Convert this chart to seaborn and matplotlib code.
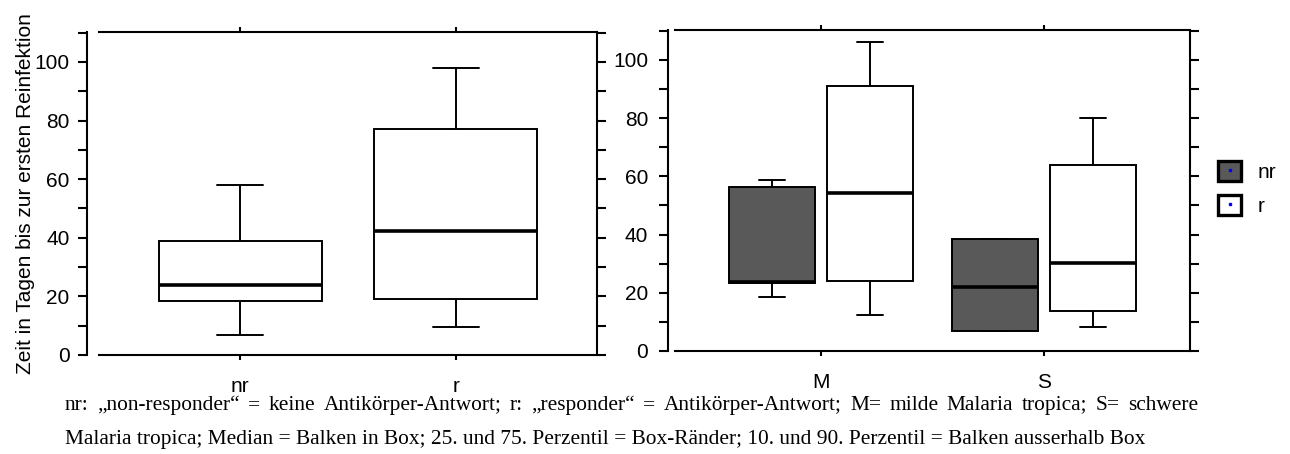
import numpy as np
import pandas as pd
import matplotlib
matplotlib.use("Agg")
import matplotlib.pyplot as plt
import seaborn as sns
from matplotlib.patches import Patch
from matplotlib.lines import Line2D
from matplotlib.ticker import FixedLocator

# ---- data: (10th pct, 25th pct, median, 75th pct, 90th pct) ----
resp_categories = ["nr", "r"]
nr_values = [6.8, 18.4, 23.8, 38.9, 58.0]
r_values = [9.6, 19.2, 42.4, 77.0, 98.0]

severity_categories = ["M", "S"]
status_levels = ["nr", "r"]
M_nr_values = [18.6, 23.2, 23.8, 56.2, 58.9]
M_r_values = [12.3, 24.0, 54.3, 91.2, 106.2]
S_nr_values = [6.9, 6.9, 22.1, 38.5, 38.5]
S_r_values = [8.2, 13.7, 30.3, 63.8, 80.2]

y_major_ticks = [0, 20, 40, 60, 80, 100]
y_minor_ticks = [10, 30, 50, 70, 90, 110]
ylabel_text = "Zeit in Tagen bis zur ersten Reinfektion"
caption_line1 = ("nr: \u201enon-responder\u201c =  keine Antikörper-Antwort; r: \u201eresponder\u201c =  "
                 "Antikörper-Antwort; M= milde Malaria tropica; S= schwere")
caption_line2 = ("Malaria tropica; Median = Balken in Box; 25. und 75. Perzentil = Box-Ränder; "
                 "10. und 90. Perzentil = Balken ausserhalb Box")

colors = {"nr": "#595959", "r": "white"}

sns.set_style("ticks")
plt.rcParams["font.family"] = ["Liberation Sans", "DejaVu Sans"]
for key in ["text.color", "axes.labelcolor", "xtick.color", "ytick.color", "axes.edgecolor"]:
    plt.rcParams[key] = "black"

W, H = 1290, 454
fig = plt.figure(figsize=(W / 100, H / 100), dpi=100)

def fig_rect(x0, x1, ytop, ybot):
    return [x0 / W, 1 - ybot / H, (x1 - x0) / W, (ybot - ytop) / H]

ax1 = fig.add_axes(fig_rect(99, 597, 31.7, 355))
ax2 = fig.add_axes(fig_rect(675, 1190, 30, 351))

left_df = pd.DataFrame({
    "group": ["nr"] * len(nr_values) + ["r"] * len(r_values),
    "days": nr_values + r_values,
})
rows = []
for sev, st, vals in [("M", "nr", M_nr_values), ("M", "r", M_r_values),
                      ("S", "nr", S_nr_values), ("S", "r", S_r_values)]:
    for v in vals:
        rows.append({"severity": sev, "status": st, "days": v})
right_df = pd.DataFrame(rows)

box_lw = 1.4
sns.boxplot(data=left_df, x="group", y="days", order=resp_categories,
            color="white", saturation=1, linecolor="black", linewidth=box_lw,
            width=0.757, whis=(0, 100), showfliers=False, capwidths=0.215,
            medianprops=dict(linewidth=2.6), ax=ax1)

sns.boxplot(data=right_df, x="severity", y="days", hue="status",
            order=severity_categories, hue_order=status_levels,
            palette=colors, saturation=1, linecolor="black", linewidth=box_lw,
            width=0.88, gap=0.12, whis=(0, 100), showfliers=False,
            capwidths=0.117, medianprops=dict(linewidth=2.6),
            legend=False, ax=ax2)

tick_fs = 15
for ax, off, lpad in [(ax1, 9, 5.5), (ax2, 5, 7.5)]:
    ax.set_xlim(-0.655, 1.655)
    ax.set_ylim(0, 110.3)
    ax.set_xlabel("")
    ax.set_ylabel("")
    for s in ax.spines.values():
        s.set_visible(True)
        s.set_linewidth(1.5)
        s.set_color("black")
    ax.spines["left"].set_position(("outward", off))
    ax.yaxis.set_major_locator(FixedLocator(y_major_ticks))
    ax.yaxis.set_minor_locator(FixedLocator(y_minor_ticks))
    ax.tick_params(axis="y", which="both", left=True, right=True,
                   labelleft=True, labelright=False, direction="out",
                   length=6.8, width=1.5, color="black", labelcolor="black",
                   pad=lpad, labelsize=tick_fs)
    ax.tick_params(axis="x", which="both", top=True, bottom=True,
                   direction="out", length=3.5, width=1.5, color="black",
                   labelcolor="black", pad=12, labelsize=tick_fs)
    ax.grid(False)
    ax.set_facecolor("white")

ax1.set_ylabel(ylabel_text, fontsize=15, color="black")
ax1.yaxis.set_label_coords(-0.128, 0.5)

# legend
handles = [
    (Patch(facecolor=colors[k], edgecolor="black", linewidth=2.4),
     Line2D([], [], marker="s", color="blue", markersize=2, linestyle=""))
    for k in status_levels
]
fs_px = tick_fs * 100 / 72
ax2.legend(handles, status_levels, loc="upper left",
           bbox_to_anchor=(1218 / W, 1 - 161 / H), bbox_transform=fig.transFigure,
           frameon=False, fontsize=tick_fs, borderpad=0, borderaxespad=0,
           handlelength=23 / fs_px, handleheight=23 / fs_px,
           labelspacing=13 / fs_px, handletextpad=17 / fs_px)

# caption (first line justified)
cap_font = dict(family=["Liberation Serif", "DejaVu Serif"], fontsize=15.4, color="black")
fig.canvas.draw()
renderer = fig.canvas.get_renderer()
words = caption_line1.split()
y1 = 1 - 410 / H
texts = [fig.text(0, y1, w, va="baseline", ha="left", **cap_font) for w in words]
widths = [t.get_window_extent(renderer).width for t in texts]
x0, x1 = 65, 1198
gap = (x1 - x0 - sum(widths)) / (len(words) - 1)
x = x0
for t, w in zip(texts, widths):
    t.set_x(x / W)
    x += w + gap
fig.text(65 / W, 1 - 444 / H, caption_line2, va="baseline", ha="left", **cap_font)

fig.savefig("out.png", dpi=100, facecolor="white")
